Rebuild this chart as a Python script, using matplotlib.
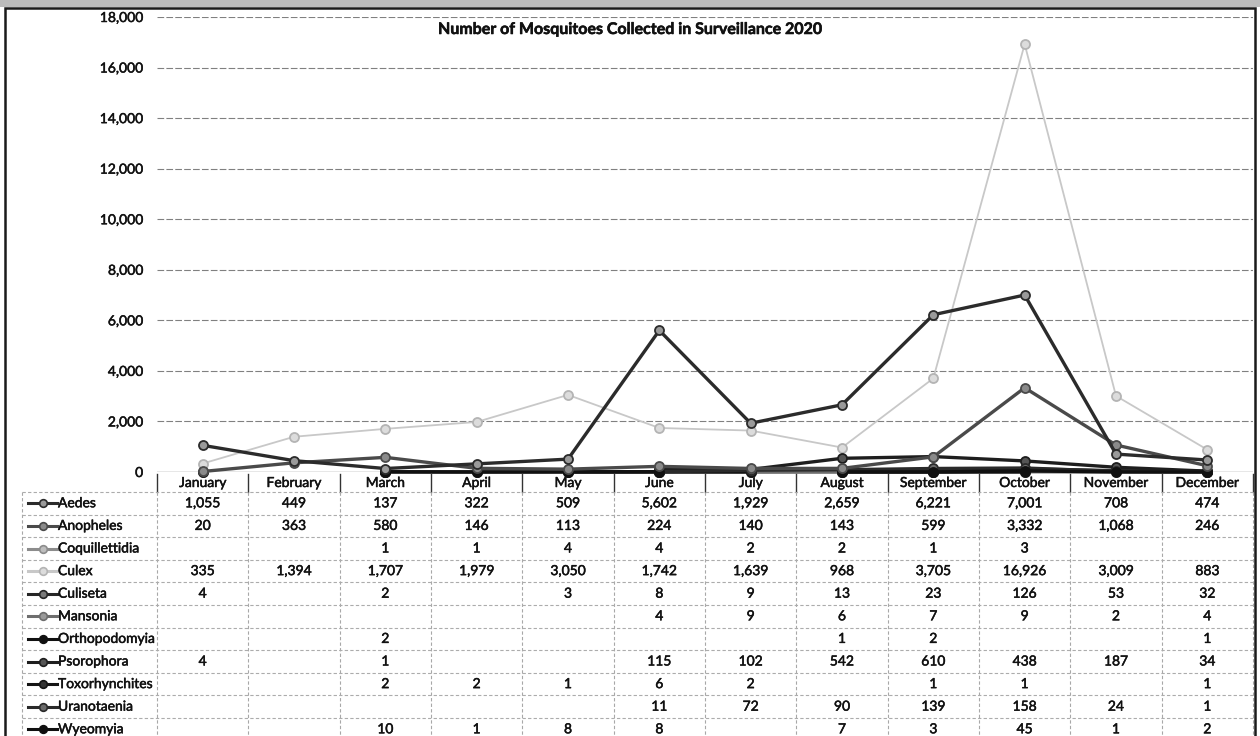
import numpy as np
import matplotlib
matplotlib.use("Agg")
import matplotlib.pyplot as plt
import matplotlib.patheffects as pe
from matplotlib.lines import Line2D
from matplotlib.patches import Rectangle
from matplotlib.transforms import blended_transform_factory

plt.rcParams['font.family'] = ['Lato', 'DejaVu Sans']

months = ['January', 'February', 'March', 'April', 'May', 'June', 'July',
          'August', 'September', 'October', 'November', 'December']
species = ['Aedes', 'Anopheles', 'Coquillettidia', 'Culex', 'Culiseta', 'Mansonia',
           'Orthopodomyia', 'Psorophora', 'Toxorhynchites', 'Uranotaenia', 'Wyeomyia']
N = None
aedes = [1055, 449, 137, 322, 509, 5602, 1929, 2659, 6221, 7001, 708, 474]
anopheles = [20, 363, 580, 146, 113, 224, 140, 143, 599, 3332, 1068, 246]
coquillettidia = [N, N, 1, 1, 4, 4, 2, 2, 1, 3, N, N]
culex = [335, 1394, 1707, 1979, 3050, 1742, 1639, 968, 3705, 16926, 3009, 883]
culiseta = [4, N, 2, N, 3, 8, 9, 13, 23, 126, 53, 32]
mansonia = [N, N, N, N, N, 4, 9, 6, 7, 9, 2, 4]
orthopodomyia = [N, N, 2, N, N, N, N, 1, 2, N, N, 1]
psorophora = [4, N, 1, N, N, 115, 102, 542, 610, 438, 187, 34]
toxorhynchites = [N, N, 2, 2, 1, 6, 2, N, 1, 1, N, 1]
uranotaenia = [N, N, N, N, N, 11, 72, 90, 139, 158, 24, 1]
wyeomyia = [N, N, 10, 1, 8, 8, N, 7, 3, 45, 1, 2]
series = [aedes, anopheles, coquillettidia, culex, culiseta, mansonia,
          orthopodomyia, psorophora, toxorhynchites, uranotaenia, wyeomyia]
yticks = [0, 2000, 4000, 6000, 8000, 10000, 12000, 14000, 16000, 18000]
title = 'Number of Mosquitoes Collected in Surveillance 2020'

# styles: (line color, line width, marker face, marker edge, zorder)
styles = [
    ('#2b2b2b', 2.4, '#9a9a9a', '#2b2b2b', 6),
    ('#4a4a4a', 2.4, '#8a8a8a', '#4a4a4a', 5),
    ('#8c8c8c', 1.8, '#bdbdbd', '#8c8c8c', 4),
    ('#c8c8c8', 1.3, '#dcdcdc', '#b4b4b4', 3),
    ('#262626', 2.4, '#7a7a7a', '#262626', 4),
    ('#6e6e6e', 2.4, '#9a9a9a', '#6e6e6e', 4),
    ('#111111', 2.4, '#111111', '#111111', 4),
    ('#1e1e1e', 2.4, '#555555', '#1e1e1e', 4),
    ('#141414', 2.4, '#333333', '#141414', 4),
    ('#2a2a2a', 2.4, '#6a6a6a', '#2a2a2a', 4),
    ('#101010', 2.4, '#101010', '#101010', 4),
]

W, H = 1260, 736
fig = plt.figure(figsize=(W / 100, H / 100), dpi=100)
fig.patch.set_facecolor('white')

def fy(ypx):
    return 1 - ypx / H

def fx(xpx):
    return xpx / W

TXT = '#111111'
FS = 10
THICK = [pe.withStroke(linewidth=0.35, foreground=TXT)]
TTHICK = [pe.withStroke(linewidth=0.4, foreground=TXT)]

# scan background strip and frame
fig.add_artist(Rectangle((0, fy(7)), 1, 7 / H, transform=fig.transFigure,
                         facecolor='#bcbcbc', edgecolor='none', zorder=0))
fig.add_artist(Rectangle((fx(5), fy(740)), fx(1255) - fx(5), fy(8) - fy(740),
                         transform=fig.transFigure, facecolor='none',
                         edgecolor='#1a1a1a', linewidth=1.8, zorder=10))

ax_left, ax_right, ax_top, ax_bot = 157, 1253, 17, 472
ax = fig.add_axes([fx(ax_left), fy(ax_bot), fx(ax_right) - fx(ax_left), fy(ax_top) - fy(ax_bot)])
ax.set_facecolor('none')
x = np.arange(len(months))
ax.set_xlim(-0.5, len(months) - 0.5)
ax.set_ylim(0, 18000)
ax.set_yticks(yticks)
ax.set_yticklabels([f'{v:,}' for v in yticks], fontsize=FS, color=TXT)
for lbl in ax.get_yticklabels():
    lbl.set_path_effects(THICK)
ax.tick_params(axis='y', length=0, pad=10)
ax.set_xticks([])
for s in ax.spines.values():
    s.set_visible(False)
for v in yticks[1:]:
    ax.axhline(v, color='#808080', linewidth=0.8, linestyle=(0, (6, 2)), zorder=1)
ax.axhline(0, color='#888888', linewidth=1.0, zorder=1)

for vals, (lc, lw, mf, me, z) in zip(series, styles):
    y = np.array([np.nan if v is None else v for v in vals], dtype=float)
    ax.plot(x, y, color=lc, linewidth=lw, marker='o', markersize=6.5,
            markerfacecolor=mf, markeredgecolor=me, markeredgewidth=1.3,
            zorder=z, clip_on=False)

fig.text(0.5, fy(30), title, ha='center', va='center', fontsize=11.5,
         fontweight='bold', color=TXT, path_effects=TTHICK)

# data table
tr = blended_transform_factory(ax.transData, fig.transFigure)
hdr_bot = 492
row_h = 22.6
table_left = 22
for i, m in enumerate(months):
    ax.text(i, fy((ax_bot + hdr_bot) / 2 + 1), m, transform=tr, ha='center', va='center',
            fontsize=FS, color=TXT, clip_on=False, path_effects=THICK)
for k in range(len(months) + 1):
    xb = k - 0.5
    fig.add_artist(Line2D([xb, xb], [fy(ax_bot + 2), fy(hdr_bot)], transform=tr,
                          color='#333333', linewidth=1.0))
    fig.add_artist(Line2D([xb, xb], [fy(hdr_bot), fy(740)], transform=tr,
                          color='#a8a8a8', linewidth=0.8, linestyle=(0, (3, 2))))
fig.add_artist(Line2D([fx(table_left)] * 2, [fy(hdr_bot), fy(740)], transform=fig.transFigure,
                      color='#a8a8a8', linewidth=0.8, linestyle=(0, (3, 2))))
for r in range(len(species) + 1):
    yy = fy(hdr_bot + r * row_h)
    fig.add_artist(Line2D([fx(table_left), fx(ax_right)], [yy, yy], transform=fig.transFigure,
                          color='#acacac', linewidth=0.8, linestyle=(0, (3, 2))))

for r, (name, vals, (lc, lw, mf, me, z)) in enumerate(zip(species, series, styles)):
    yc = fy(hdr_bot + (r + 0.5) * row_h)
    fig.add_artist(Line2D([fx(28), fx(57)], [yc, yc], transform=fig.transFigure,
                          color=lc, linewidth=2.2))
    fig.add_artist(Line2D([fx(43)], [yc], transform=fig.transFigure, marker='o',
                          markersize=5.5, markerfacecolor=mf, markeredgecolor=me,
                          markeredgewidth=1.2, linestyle='none'))
    fig.text(fx(58), yc, name, ha='left', va='center', fontsize=FS, color=TXT,
             path_effects=THICK)
    for i, v in enumerate(vals):
        if v is not None:
            ax.text(i, yc, f'{v:,}', transform=tr, ha='center', va='center',
                    fontsize=FS, color=TXT, clip_on=False, path_effects=THICK)

fig.savefig('out.png', dpi=100)
